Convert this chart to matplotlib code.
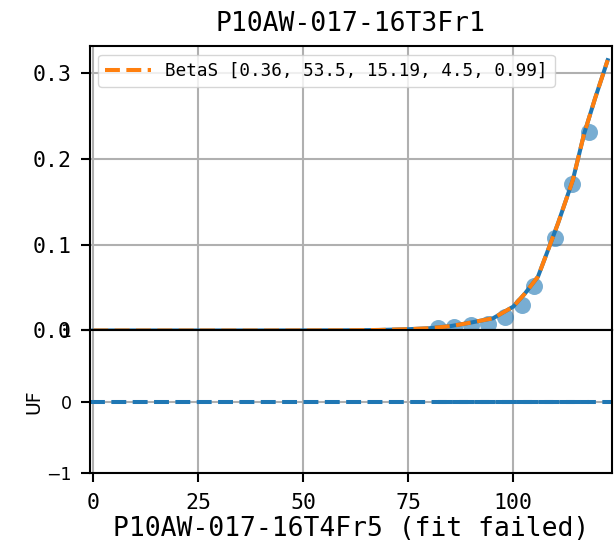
import matplotlib
matplotlib.use('Agg')
import matplotlib.pyplot as plt

# data
x_pts = [82, 86, 90, 94, 98, 102, 105, 110, 114, 118]
uf_pts = [0.0026, 0.0044, 0.0067, 0.0076, 0.0153, 0.0297, 0.052, 0.108, 0.171, 0.231]
x_fit = [0, 20, 40, 60, 68, 75, 80, 85, 89.7, 95.2, 100, 102.8, 105.9, 108.3, 110.7, 114.2, 116.9, 119.5, 122.5]
uf_fit = [0, 0, 0, 0.0002, 0.0006, 0.0015, 0.0026, 0.005, 0.009, 0.0142, 0.0277, 0.043, 0.0626,
          0.0936, 0.125, 0.175, 0.229, 0.27, 0.3145]
beta_params = [0.36, 53.5, 15.19, 4.5, 0.99]
top_name = 'P10AW-017-16T3Fr1'
bottom_name = 'P10AW-017-16T4Fr5'
bottom_x = [82, 118]
bottom_uf = [0, 0]

plt.rcParams['font.family'] = ['DejaVu Sans Mono', 'DejaVu Sans']
plt.rcParams['axes.linewidth'] = 1.5

fig = plt.figure(figsize=(6.14, 5.45), dpi=100)
ax1 = fig.add_axes([0.1458, 0.3936, 0.8514, 0.522])
ax2 = fig.add_axes([0.1458, 0.1321, 0.8514, 0.2615], sharex=ax1)

# top: fitted sample
ax1.scatter(x_pts, uf_pts, s=150, color='C0', alpha=0.6, lw=0, zorder=2)
ax1.plot(x_fit, uf_fit, color='C0', lw=2.9, zorder=3)
ax1.plot(x_fit, uf_fit, '--', color='C1', lw=2.9, zorder=4, label=f'BetaS {beta_params}')
ax1.set_ylim(0, 0.331)
ax1.set_yticks([0, 0.1, 0.2, 0.3])
ax1.set_title(top_name, fontsize=19, pad=11)
ax1.legend(loc='upper left', fontsize=12.7, handlelength=2.6)
ax1.tick_params(axis='x', length=0, labelbottom=False)
ax1.tick_params(axis='y', length=6.5, width=1.5, labelsize=15.5, pad=6.5)
ax1.grid(color='#b0b0b0', lw=1.5)

# bottom: failed fit
ax2.axhline(0, ls='--', color='C0', lw=2.9)
ax2.plot(bottom_x, bottom_uf, '--', color='C0', lw=2.9)
ax2.set_ylim(-1, 1)
ax2.set_yticks([-1, 0, 1])
ax2.set_xlim(-0.9, 123.6)
ax2.set_xticks([0, 25, 50, 75, 100])
ax2.tick_params(length=6.5, width=1.5, labelsize=15.5, pad=6.5)
ax2.tick_params(axis='x', pad=8)
for lab in ax2.get_yticklabels():
    lab.set_family('DejaVu Sans')
    lab.set_fontsize(12.5)
ax2.set_ylabel('UF', family='DejaVu Sans', fontsize=13.5, labelpad=2)
ax2.set_xlabel(f'{bottom_name} (fit failed)', fontsize=19, labelpad=2)
ax2.grid(color='#b0b0b0', lw=1.5)

fig.savefig('out.png', dpi=100)
